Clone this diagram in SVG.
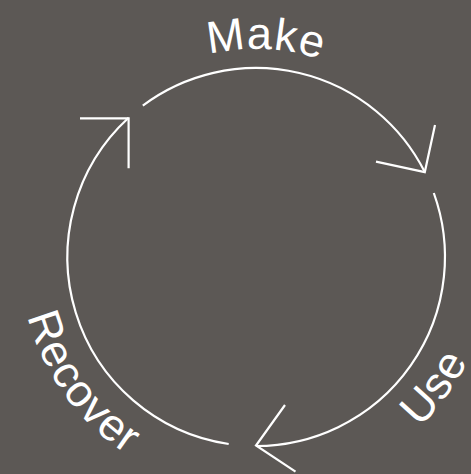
<svg xmlns="http://www.w3.org/2000/svg" width="471" height="474" viewBox="0 0 471 474">
  <style>
    .arc { fill: none; stroke: #ffffff; stroke-width: 2.2; stroke-linecap: butt; stroke-linejoin: miter; }
    .lbl { fill: #ffffff; font-family: "Liberation Sans", Arial, sans-serif; font-size: 45px; letter-spacing: 1px; }
  </style>
  <defs>
    <path id="topPath" d="M 48 257 A 208 208 0 0 1 464 257"/>
    <path id="botPath" d="M 20 257 A 236 236 0 0 0 492 257"/>
  </defs>
  <rect width="471" height="474" fill="#5c5855"/>
  <g id="connectors">
    <path class="arc" d="M 142.8 105.6 A 189 189 0 0 1 424.8 172.1"/>
    <polyline class="arc" points="376,161.7 424.8,172.1 435,125"/>
    <path class="arc" d="M 433.8 193 A 189 189 0 0 1 256 446"/>
    <polyline class="arc" points="285,405 256,445.5 295.5,471.7"/>
    <path class="arc" d="M 228.7 444 A 189 189 0 0 1 128.6 117.8"/>
    <polyline class="arc" points="80,118.3 128.6,118.3 128.6,168.3"/>
  </g>
  <g id="make">
    <text class="lbl"><textPath href="#topPath" startOffset="279">Make</textPath></text>
  </g>
  <g id="use">
    <text class="lbl"><textPath href="#botPath" startOffset="551">Use</textPath></text>
  </g>
  <g id="recover">
    <text class="lbl"><textPath href="#botPath" startOffset="60">Recover</textPath></text>
  </g>
</svg>
